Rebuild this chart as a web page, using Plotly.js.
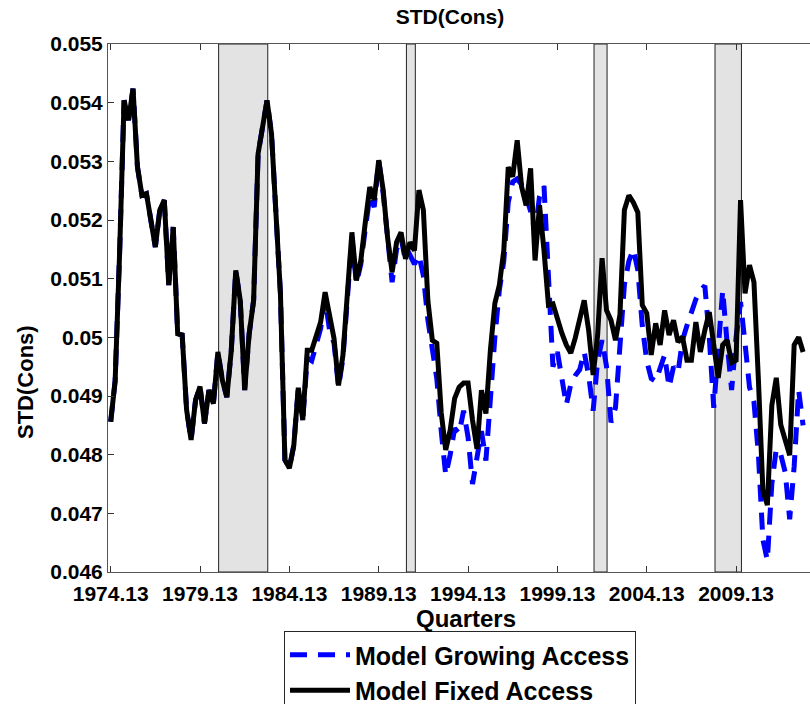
<!DOCTYPE html>
<html>
<head>
<meta charset="utf-8">
<script src="https://cdn.plot.ly/plotly-3.0.1.min.js"></script>
<style>
  html, body { margin: 0; padding: 0; background: #ffffff; overflow: hidden; }
  #chart { width: 830px; height: 704px; }
</style>
</head>
<body>
<div id="chart"></div>
<script>
// Quarterly dates (x axis values)
const quarters = [
  1974.13, 1974.38, 1974.63, 1974.88, 1975.13, 1975.38, 1975.63, 1975.88,
  1976.13, 1976.38, 1976.63, 1976.88, 1977.13, 1977.38, 1977.63, 1977.88,
  1978.13, 1978.38, 1978.63, 1978.88, 1979.13, 1979.38, 1979.63, 1979.88,
  1980.13, 1980.38, 1980.63, 1980.88, 1981.13, 1981.38, 1981.63, 1981.88,
  1982.13, 1982.38, 1982.63, 1982.88, 1983.13, 1983.38, 1983.63, 1983.88,
  1984.13, 1984.38, 1984.63, 1984.88, 1985.13, 1985.38, 1985.63, 1985.88,
  1986.13, 1986.38, 1986.63, 1986.88, 1987.13, 1987.38, 1987.63, 1987.88,
  1988.13, 1988.38, 1988.63, 1988.88, 1989.13, 1989.38, 1989.63, 1989.88,
  1990.13, 1990.38, 1990.63, 1990.88, 1991.13, 1991.38, 1991.63, 1991.88,
  1992.13, 1992.38, 1992.63, 1992.88, 1993.13, 1993.38, 1993.63, 1993.88,
  1994.13, 1994.38, 1994.63, 1994.88, 1995.13, 1995.38, 1995.63, 1995.88,
  1996.13, 1996.38, 1996.63, 1996.88, 1997.13, 1997.38, 1997.63, 1997.88,
  1998.13, 1998.38, 1998.63, 1998.88, 1999.13, 1999.38, 1999.63, 1999.88,
  2000.13, 2000.38, 2000.63, 2000.88, 2001.13, 2001.38, 2001.63, 2001.88,
  2002.13, 2002.38, 2002.63, 2002.88, 2003.13, 2003.38, 2003.63, 2003.88,
  2004.13, 2004.38, 2004.63, 2004.88, 2005.13, 2005.38, 2005.63, 2005.88,
  2006.13, 2006.38, 2006.63, 2006.88, 2007.13, 2007.38, 2007.63, 2007.88,
  2008.13, 2008.38, 2008.63, 2008.88, 2009.13, 2009.38, 2009.63, 2009.88,
  2010.13, 2010.38, 2010.63, 2010.88, 2011.13, 2011.38, 2011.63, 2011.88,
  2012.13, 2012.38, 2012.63, 2012.88
];

// Model Fixed Access (black solid)
const fixedAccess = [
  0.04856, 0.04926, 0.05144, 0.05404, 0.05370, 0.05424, 0.05290, 0.05242,
  0.05245, 0.05199, 0.05154, 0.05217, 0.05234, 0.05089, 0.05188, 0.05006,
  0.05004, 0.04876, 0.04825, 0.04893, 0.04916, 0.04853, 0.04910, 0.04887,
  0.04975, 0.04927, 0.04898, 0.04978, 0.05114, 0.05063, 0.04910, 0.05006,
  0.05063, 0.05313, 0.05364, 0.05404, 0.05347, 0.05222, 0.05075, 0.04791,
  0.04777, 0.04816, 0.04914, 0.04859, 0.04978, 0.04978, 0.05003, 0.05026,
  0.05077, 0.05032, 0.04998, 0.04918, 0.04970, 0.05076, 0.05179, 0.05097,
  0.05131, 0.05196, 0.05256, 0.05234, 0.05302, 0.05251, 0.05169, 0.05111,
  0.05162, 0.05179, 0.05134, 0.05162, 0.05148, 0.05251, 0.05217, 0.05063,
  0.04995, 0.04990, 0.04871, 0.04808, 0.04842, 0.04896, 0.04915, 0.04922,
  0.04922, 0.04859, 0.04810, 0.04910, 0.04870, 0.04978, 0.05058, 0.05089,
  0.05148, 0.05290, 0.05274, 0.05336, 0.05256, 0.05225, 0.05288, 0.05131,
  0.05225, 0.05148, 0.05055, 0.05057, 0.05029, 0.05007, 0.04987, 0.04973,
  0.04999, 0.05033, 0.05063, 0.05012, 0.04936, 0.05003, 0.05135, 0.05046,
  0.05029, 0.04995, 0.05038, 0.05217, 0.05242, 0.05230, 0.05213, 0.05055,
  0.05041, 0.04970, 0.05024, 0.04987, 0.05046, 0.05004, 0.05029, 0.04992,
  0.05001, 0.04961, 0.04961, 0.05026, 0.04975, 0.05012, 0.05043, 0.04987,
  0.04931, 0.04987, 0.04995, 0.04957, 0.04961, 0.05234, 0.05075, 0.05123,
  0.05094, 0.04927, 0.04739, 0.04714, 0.04884, 0.04931, 0.04851, 0.04825,
  0.04799, 0.04987, 0.05000, 0.04975
];

// Model Growing Access (blue dashed)
const growingAccess = [
  0.04856, 0.04926, 0.05144, 0.05404, 0.05370, 0.05424, 0.05290, 0.05242,
  0.05245, 0.05199, 0.05154, 0.05217, 0.05234, 0.05089, 0.05188, 0.05006,
  0.05004, 0.04876, 0.04825, 0.04893, 0.04916, 0.04853, 0.04910, 0.04887,
  0.04975, 0.04927, 0.04898, 0.04978, 0.05114, 0.05063, 0.04910, 0.05006,
  0.05063, 0.05313, 0.05364, 0.05404, 0.05347, 0.05222, 0.05075, 0.04791,
  0.04777, 0.04816, 0.04914, 0.04859, 0.04965, 0.04960, 0.04990, 0.05015,
  0.05065, 0.05012, 0.04990, 0.04915, 0.04965, 0.05070, 0.05170, 0.05092,
  0.05125, 0.05185, 0.05240, 0.05222, 0.05302, 0.05245, 0.05160, 0.05094,
  0.05150, 0.05170, 0.05130, 0.05140, 0.05125, 0.05140, 0.05105, 0.05030,
  0.04980, 0.04930, 0.04840, 0.04765, 0.04800, 0.04845, 0.04836, 0.04875,
  0.04830, 0.04750, 0.04795, 0.04840, 0.04790, 0.04900, 0.05000, 0.05080,
  0.05130, 0.05230, 0.05265, 0.05270, 0.05260, 0.05240, 0.05215, 0.05180,
  0.05240, 0.05258, 0.05080, 0.04950, 0.04975, 0.04930, 0.04885, 0.04920,
  0.04935, 0.04945, 0.04975, 0.04935, 0.04875, 0.04960, 0.04995, 0.04950,
  0.04855, 0.04880, 0.04980, 0.05090, 0.05130, 0.05150, 0.05115, 0.05020,
  0.04960, 0.04930, 0.04925, 0.04950, 0.04970, 0.04915, 0.04950, 0.04940,
  0.04995, 0.05020, 0.05045, 0.05065, 0.05080, 0.05088, 0.05000, 0.04880,
  0.04980, 0.05080, 0.04990, 0.04910, 0.05000, 0.05060, 0.04990, 0.04915,
  0.04890, 0.04800, 0.04655, 0.04620, 0.04750, 0.04810, 0.04800, 0.04770,
  0.04690, 0.04780, 0.04910, 0.04850
];

// Recession bands (start / end dates)
const recessionStart = [1980.17, 1990.68, 2001.18, 2007.95];
const recessionEnd   = [1982.92, 1991.18, 2001.91, 2009.43];

// Tick values / labels
const xTickVals = [1974.13, 1979.13, 1984.13, 1989.13, 1994.13, 1999.13, 2004.13, 2009.13];
const xTickText = ['1974.13', '1979.13', '1984.13', '1989.13', '1994.13', '1999.13', '2004.13', '2009.13'];
const yTickVals = [0.046, 0.047, 0.048, 0.049, 0.050, 0.051, 0.052, 0.053, 0.054, 0.055];
const yTickText = ['0.046', '0.047', '0.048', '0.049', '0.05', '0.051', '0.052', '0.053', '0.054', '0.055'];

const FONT = 'Liberation Sans, Arial, Helvetica, sans-serif';

const traces = [
  {
    x: quarters, y: growingAccess, type: 'scatter', mode: 'lines',
    name: 'Model Growing Access',
    line: { color: '#0000ff', width: 5, dash: '17px,11px' }
  },
  {
    x: quarters, y: fixedAccess, type: 'scatter', mode: 'lines',
    name: 'Model Fixed Access',
    line: { color: '#000000', width: 5 }
  }
];

const shapes = recessionStart.map((s, i) => ({
  type: 'rect', xref: 'x', yref: 'paper',
  x0: s, x1: recessionEnd[i], y0: 0, y1: 1,
  fillcolor: '#e3e3e3', line: { color: '#222222', width: 1 }, layer: 'below'
}));

const layout = {
  width: 830, height: 704,
  margin: { l: 108, r: 6, t: 44, b: 132, autoexpand: false },
  paper_bgcolor: '#ffffff', plot_bgcolor: '#ffffff',
  font: { family: FONT, color: '#000000' },
  title: {
    text: 'STD(Cons)', xref: 'container', x: 450 / 830, xanchor: 'center',
    yref: 'container', y: 1 - 17 / 704, yanchor: 'middle',
    font: { family: FONT, size: 21, weight: 'bold', color: '#000000' }
  },
  xaxis: {
    range: [1973.98, 2014.05],
    tickvals: xTickVals, ticktext: xTickText,
    ticks: 'inside', ticklen: 6, tickwidth: 1, tickcolor: '#333333',
    showline: true, linecolor: '#555555', linewidth: 1, mirror: 'ticks',
    showgrid: false, zeroline: false, automargin: false,
    ticklabelstandoff: 3,
    tickfont: { family: FONT, size: 21, weight: 'bold', color: '#000000' },
    title: { text: 'Quarters', standoff: 3, font: { family: FONT, size: 24, weight: 'bold', color: '#000000' } }
  },
  yaxis: {
    range: [0.046, 0.055],
    tickvals: yTickVals, ticktext: yTickText,
    ticks: 'inside', ticklen: 6, tickwidth: 1, tickcolor: '#333333',
    showline: true, linecolor: '#555555', linewidth: 1, mirror: 'ticks',
    showgrid: false, zeroline: false, automargin: false,
    tickfont: { family: FONT, size: 21, weight: 'bold', color: '#000000' }
  },
  annotations: [{
    text: 'STD(Cons)', textangle: -90, showarrow: false,
    xref: 'paper', yref: 'paper', x: (25 - 108) / 716, y: (572 - 382) / 528,
    xanchor: 'center', yanchor: 'middle',
    font: { family: FONT, size: 22, weight: 'bold', color: '#000000' }
  }],
  shapes: shapes,
  showlegend: true,
  legend: {
    x: (284 - 108) / 716, xanchor: 'left',
    y: -(631 - 572) / 528, yanchor: 'top',
    bgcolor: '#ffffff', bordercolor: '#262626', borderwidth: 1,
    font: { family: FONT, size: 25, weight: 'bold', color: '#000000' },
    itemwidth: 60, tracegroupgap: 0
  }
};

Plotly.newPlot('chart', traces, layout, { displayModeBar: false, staticPlot: true });
</script>
</body>
</html>
